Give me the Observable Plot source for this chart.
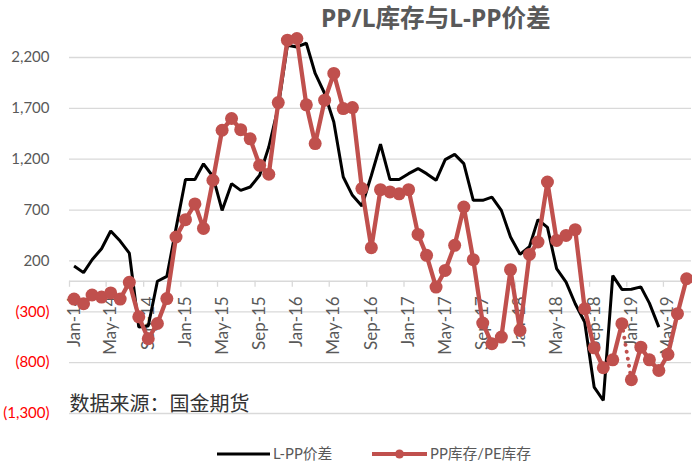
<!DOCTYPE html>
<html><head><meta charset="utf-8">
<script src="https://cdn.jsdelivr.net/npm/d3@7"></script>
<script src="https://cdn.jsdelivr.net/npm/@observablehq/plot@0.6"></script>
<style>
body{margin:0;background:#fff;}
#wrap{width:692px;height:466px;position:relative;overflow:hidden;font-family:Lato,"Noto Sans CJK SC",sans-serif;}
#title{height:36px;line-height:36px;white-space:nowrap;padding-left:321px;font-family:"Noto Sans","Noto Sans CJK SC",sans-serif;font-weight:bold;font-size:24.6px;color:#595959;}
#legend{height:30px;}
</style></head><body>
<div id="wrap">
<div id="title">PP/L库存与L-PP价差</div>
<div id="chart"></div>
<div id="legend"></div>
</div>
<script>
// months counted from Jan-2014
const startYear = 2014;
const ppRatio = [
  -175, -220, -135, -155, -115, -175, -10, -350, -565, -415, -170, 435,
   606, 760, 520, 993, 1485, 1600, 1490, 1400, 1140, 1052, 1757, 2370,
  2387, 1735, 1354, 1780, 2043, 1698, 1708, 911, 330, 901, 878, 860,
   901, 461, 255, -57, 107, 353, 730, 212, -411, -614, -549, 114,
  -483, 264, 386, 976, 402, 451, 507, -270, -654, -850, -772, -417,
  -968, -648, -772, -877, -720, -319, 25
];
const lppSpread = [
   150, 85, 212, 320, 494, 395, 277, -450, -440, 0, 48, 520,
  1000, 1000, 1155, 1030, 697, 960, 894, 927, 1042, 1320, 1714, 2321,
  2304, 2340, 2043, 1846, 1566, 1025, 845, 740, 1040, 1347, 1000, 1000,
  1058, 1108, 1058, 993, 1196, 1248, 1157, 796, 796, 828, 697, 435,
   265, 340, 606, 530, 124, -8, -221, -400, -1040, -1172, 55, -80,
   -78, -55, -215, -451
];
const yTicks = [2200, 1700, 1200, 700, 200, -300, -800, -1300];
const labelMonths = [0, 4, 8, 12, 16, 20, 24, 28, 32, 36, 40, 44, 48, 52, 56, 60, 64];
const monthCount = 67;
const dottedAfter = 59; // Dec-18 -> Jan-19 drawn dotted
const seriesNames = ["L-PP价差", "PP库存/PE库存"];
const sourceNote = "数据来源：国金期货";

const red = "#c0504d";
const gray = "#595959";
const monthDate = (i, day) => new Date(Date.UTC(startYear, i, day));
const mid = (i) => monthDate(i, 16);

const pp = ppRatio.map((v, i) => ({i, date: mid(i), value: v}));
const lp = lppSpread.map((v, i) => ({i, date: mid(i), value: v}));
const ppA = pp.filter(d => d.i <= dottedAfter);
const ppDot = pp.filter(d => d.i === dottedAfter || d.i === dottedAfter + 1);
const ppB = pp.filter(d => d.i >= dottedAfter + 1);

const fmtNum = d3.format(",");
const yLabel = v => v < 0 ? `(${fmtNum(-v)})` : fmtNum(v);
const fmtMonth = d3.utcFormat("%b-%y");

const chart = Plot.plot({
  width: 692,
  height: 400,
  marginLeft: 69,
  marginRight: 1,
  marginTop: 21,
  marginBottom: 23,
  x: {type: "utc", domain: [monthDate(0, 1), monthDate(monthCount, 1)], axis: null},
  y: {domain: [-1300, 2200], axis: null},
  style: {fontFamily: 'Lato, "Noto Sans CJK SC", sans-serif', overflow: "visible", background: "#fff"},
  marks: [
    Plot.ruleY(yTicks, {stroke: "#d9d9d9", strokeWidth: 1.3}),
    Plot.ruleY([0], {stroke: "#d9d9d9", strokeWidth: 1.3}),
    Plot.ruleX(labelMonths, {x: i => monthDate(i, 1), y1: 0, y2: 0, insetBottom: -6, stroke: "#d9d9d9", strokeWidth: 1.3}),
    Plot.text(labelMonths, {x: i => mid(i), y: 0, text: i => fmtMonth(monthDate(i, 1)), rotate: -90, textAnchor: "end", lineAnchor: "middle", dy: 15, fontSize: 17, fill: gray}),
    Plot.text(yTicks.filter(v => v >= 0), {y: v => v, text: yLabel, frameAnchor: "left", textAnchor: "end", dx: -20, fontSize: 15, fill: gray}),
    Plot.text(yTicks.filter(v => v < 0), {y: v => v, text: yLabel, frameAnchor: "left", textAnchor: "end", dx: -20, fontSize: 15, fill: "#ff0000"}),
    Plot.text([sourceNote], {text: d => d, frameAnchor: "bottom-left", textAnchor: "start", lineAnchor: "middle", dy: -9, fontSize: 20, fill: "#333", fontFamily: '"Noto Sans CJK SC", sans-serif'}),
    Plot.line(lp, {x: "date", y: "value", stroke: "#000", strokeWidth: 3, strokeLinejoin: "miter", strokeLinecap: "butt"}),
    Plot.line(ppA, {x: "date", y: "value", stroke: red, strokeWidth: 4.3}),
    Plot.line(ppDot, {x: "date", y: "value", stroke: red, strokeWidth: 4, strokeDasharray: "0.1,7", strokeLinecap: "round"}),
    Plot.line(ppB, {x: "date", y: "value", stroke: red, strokeWidth: 4.3}),
    Plot.dot(pp, {x: "date", y: "value", r: 6.5, fill: red, stroke: red, strokeWidth: 0})
  ]
});
document.getElementById("chart").appendChild(chart);

// legend below the chart
const lg = d3.select("#legend").append("svg").attr("width", 692).attr("height", 30)
  .style("font-family", 'Lato, "Noto Sans CJK SC", sans-serif');
lg.append("line").attr("x1", 217).attr("x2", 270).attr("y1", 18).attr("y2", 18).attr("stroke", "#000").attr("stroke-width", 3);
lg.append("text").attr("x", 273).attr("y", 18).attr("dy", "0.35em").attr("font-size", 14.8).attr("fill", gray).text(seriesNames[0]);
lg.append("line").attr("x1", 372).attr("x2", 427).attr("y1", 18).attr("y2", 18).attr("stroke", red).attr("stroke-width", 4);
lg.append("circle").attr("cx", 399.5).attr("cy", 18).attr("r", 4.5).attr("fill", red);
lg.append("text").attr("x", 430).attr("y", 18).attr("dy", "0.35em").attr("font-size", 14.8).attr("fill", gray).text(seriesNames[1]);
</script>
</body></html>
